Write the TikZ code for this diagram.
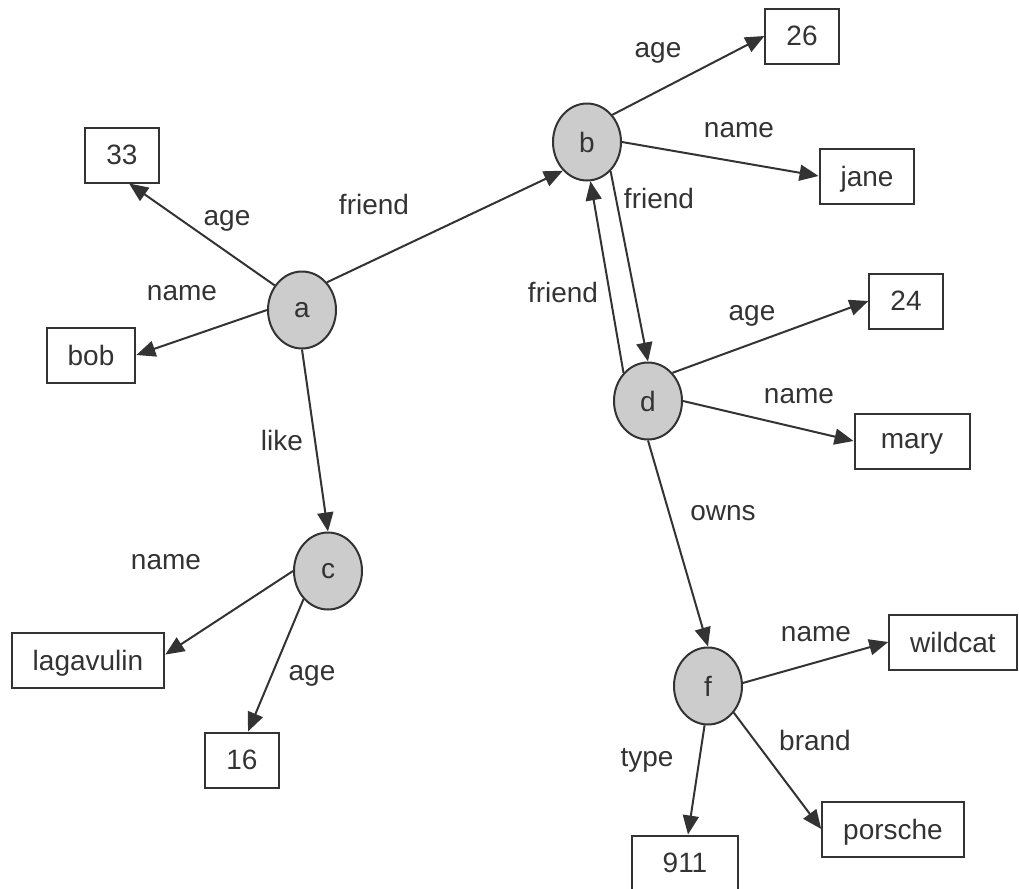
\documentclass[tikz,border=0pt]{standalone}
\usepackage{fontspec}
\setmainfont{Liberation Sans}
\usepackage{tikz}
\usetikzlibrary{shapes.geometric}
\usetikzlibrary{arrows.meta}
\definecolor{inkgray}{HTML}{333333}
\definecolor{nodegray}{HTML}{CCCCCC}

\begin{document}
\begin{tikzpicture}[x=0.5pt,y=-0.5pt,
 font=\fontsize{14}{16}\selectfont,
 every node/.style={text=inkgray,text depth=0pt},
 res/.style={ellipse,draw=inkgray,fill=nodegray,line width=1pt,minimum width=34pt,minimum height=38.5pt,inner sep=0pt},
 val/.style={rectangle,draw=inkgray,line width=1pt,minimum width=36pt,minimum height=27.5pt,inner xsep=10.5pt},
 prop/.style={inner sep=0pt},
 rel/.style={draw=inkgray,line width=1pt,-{Triangle[length=9.5pt,width=8pt]}}]
 \useasboundingbox (0,0) rectangle (1019,889);
 \clip (0,0) rectangle (1019,889);

 % resources
 \node[res] (a) at (302,310) {a};
 \node[res] (b) at (587,142) {b};
 \node[res] (c) at (328,571) {c};
 \node[res] (d) at (648,401) {d};
 \node[res] (f) at (708,686) {f};

 % literal values
 \node[val] (v33) at (122,155) {33};
 \node[val] (bob) at (91,355) {bob};
 \node[val] (lagavulin) at (88,660) {lagavulin};
 \node[val] (v16) at (242,760) {16};
 \node[val] (v26) at (802,36) {26};
 \node[val] (jane) at (867,176) {jane};
 \node[val] (v24) at (906,301) {24};
 \node[val,minimum width=57.5pt] (mary) at (912,441) {mary};
 \node[val] (wildcat) at (953,642) {wildcat};
 \node[val] (porsche) at (893,829) {porsche};
 \node[val,minimum width=53pt] (v911) at (685,863) {911};

 % properties
 \draw[rel] (a.138) -- (v33.-76);
 \draw[rel] (a.west) -- (bob.east);
 \draw[rel] (a.48) -- (b.230);
 \draw[rel] (a.south) -- (c.north);
 \draw[rel] (c.west) -- (lagavulin.4);
 \draw[rel] (c.229) -- (v16.78);
 \draw[rel] (b.47) -- (v26.west);
 \draw[rel] (b.east) -- (jane.west);
 \draw[rel] (b.-51) -- (d.north);
 \draw[rel] (d.131) -- (b.-85);
 \draw[rel] (d.49) -- (v24.west);
 \draw[rel] (d.east) -- (mary.west);
 \draw[rel] (d.south) -- (f.north);
 \draw[rel] (f.5) -- (wildcat.west);
 \draw[rel] (f.-46) -- (porsche.west);
 \draw[rel] (f.-95) -- (v911.84);

 \node[prop] (a-age) at (227,218) {age};
 \node[prop] (a-name) at (182,293) {name};
 \node[prop] (a-friend) at (374,204) {friend};
 \node[prop] (a-like) at (282,440) {like};
 \node[prop] (c-name) at (166,562) {name};
 \node[prop] (c-age) at (312,673) {age};
 \node[prop] (b-age) at (658,50) {age};
 \node[prop] (b-name) at (739,130) {name};
 \node[prop] (b-friend) at (659,198) {friend};
 \node[prop] (d-friend) at (563,292) {friend};
 \node[prop] (d-age) at (752,313) {age};
 \node[prop] (d-name) at (799,396) {name};
 \node[prop] (d-owns) at (723,513) {owns};
 \node[prop] (f-name) at (816,634) {name};
 \node[prop] (f-brand) at (815,740) {brand};
 \node[prop] (f-type) at (647,757) {type};
\end{tikzpicture}
\end{document}
